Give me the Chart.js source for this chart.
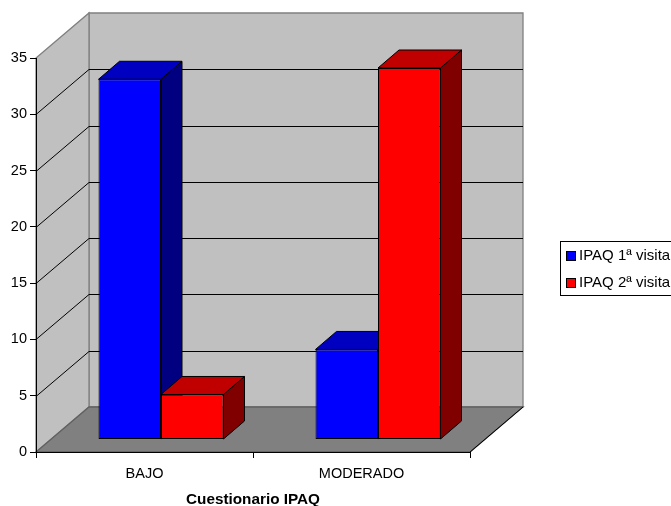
<!DOCTYPE html>
<html>
<head>
<meta charset="utf-8">
<title>Cuestionario IPAQ</title>
<script src="https://cdn.jsdelivr.net/npm/chart.js@4"></script>
<style>
html, body { margin: 0; padding: 0; background: #fff; overflow: hidden; }
canvas { display: block; }
</style>
</head>
<body>
<canvas id="chart" width="671" height="506"></canvas>
<script>
const categories = ['BAJO', 'MODERADO'];
const visita1 = [32, 8];
const visita2 = [4, 33];
const seriesNames = ['IPAQ 1ª visita', 'IPAQ 2ª visita'];
const xTitle = 'Cuestionario IPAQ';

const FONT = '"Liberation Sans", Arial, sans-serif';
const WALL = { dx: 53, dy: -45 };     // depth of the floor and left wall
const SHIFT = { dx: 16.5, dy: -12.5 };  // where the bar fronts sit on the floor
const BAR = { dx: 21, dy: -18 };      // depth of each bar
const EDGE = 1;                       // outline of the bars

function poly(ctx, pts, fill, stroke, lw) {
    ctx.beginPath();
    pts.forEach((p, i) => i ? ctx.lineTo(p[0], p[1]) : ctx.moveTo(p[0], p[1]));
    ctx.closePath();
    if (fill) { ctx.fillStyle = fill; ctx.fill(); }
    if (stroke) { ctx.strokeStyle = stroke; ctx.lineWidth = lw || 1; ctx.stroke(); }
}

const box3d = {
    id: 'box3d',
    // walls, floor and grid go under the axes
    beforeDraw(chart) {
        const ctx = chart.ctx, a = chart.chartArea, y = chart.scales.y;
        const dx = WALL.dx, dy = WALL.dy;
        ctx.save();
        poly(ctx, [[a.left + dx, a.top + dy], [a.right + dx, a.top + dy], [a.right + dx, a.bottom + dy], [a.left + dx, a.bottom + dy]], '#c0c0c0', '#808080', 1.3);
        poly(ctx, [[a.left, a.top], [a.left + dx, a.top + dy], [a.left + dx, a.bottom + dy], [a.left, a.bottom]], '#c0c0c0', '#808080', 1.3);
        poly(ctx, [[a.left, a.bottom], [a.right, a.bottom], [a.right + dx, a.bottom + dy], [a.left + dx, a.bottom + dy]], '#808080', '#606060', 1.3);

        ctx.strokeStyle = '#000';
        ctx.lineWidth = 1;
        ctx.beginPath();
        y.ticks.forEach(t => {
            if (t.value === 0 || t.value === y.max) return;
            const py = Math.round(y.getPixelForValue(t.value)) + 0.5;
            ctx.moveTo(a.left, py);
            ctx.lineTo(a.left + dx, py + dy);
            ctx.lineTo(a.right + dx, py + dy);
        });
        ctx.moveTo(a.right, a.bottom);
        ctx.lineTo(a.right + dx, a.bottom + dy);
        ctx.stroke();

        // legend frame, runs off the right edge like the original
        ctx.strokeStyle = '#000';
        ctx.strokeRect(560.5, 241.5, 130, 54);
        ctx.font = '15px ' + FONT;
        ctx.textBaseline = 'middle';
        ctx.textAlign = 'left';
        chart.data.datasets.forEach((d, i) => {
            const top = 251 + i * 27;
            ctx.fillStyle = d.backgroundColor;
            ctx.fillRect(566.5, top + 0.5, 9, 9);
            ctx.strokeRect(566.5, top + 0.5, 9, 9);
            ctx.fillStyle = '#000';
            ctx.fillText(d.label, 579, top + 4.5);
        });
        ctx.restore();
    },
    // tops and sides first, blue before red, then the library draws the fronts in the same shifted space
    beforeDatasetsDraw(chart) {
        const ctx = chart.ctx;
        ctx.save();
        ctx.translate(SHIFT.dx, SHIFT.dy);
        chart.data.datasets.forEach((d, i) => {
            chart.getDatasetMeta(i).data.forEach(el => {
                const l = el.x - el.width / 2, r = el.x + el.width / 2, t = el.y, b = el.base;
                poly(ctx, [[r, t], [r + BAR.dx, t + BAR.dy], [r + BAR.dx, b + BAR.dy], [r, b]], d.sideColor, '#000', EDGE);
                poly(ctx, [[l, t], [l + BAR.dx, t + BAR.dy], [r + BAR.dx, t + BAR.dy], [r, t]], d.topColor, '#000', EDGE);
            });
        });
    },
    afterDatasetsDraw(chart) {
        chart.ctx.restore();
    }
};

new Chart(document.getElementById('chart'), {
    type: 'bar',
    data: {
        labels: categories,
        datasets: [
            { label: seriesNames[0], data: visita1, backgroundColor: '#0000ff', sideColor: '#000080', topColor: '#0000c0', borderColor: '#000', borderWidth: EDGE, borderSkipped: false, clip: false },
            { label: seriesNames[1], data: visita2, backgroundColor: '#ff0000', sideColor: '#800000', topColor: '#c00000', borderColor: '#000', borderWidth: EDGE, borderSkipped: false, clip: false }
        ]
    },
    options: {
        responsive: false,
        animation: false,
        layout: { padding: { top: 58, right: 201, left: 0, bottom: 0 } },
        datasets: { bar: { categoryPercentage: 0.576, barPercentage: 1 } },
        plugins: { legend: { display: false }, tooltip: { enabled: false } },
        scales: {
            x: {
                afterFit: s => { s.height = 54; },
                grid: { drawOnChartArea: false, color: '#000', tickLength: 6 },
                border: { color: '#000' },
                ticks: { color: '#000', font: { family: FONT, size: 14.5 }, padding: 7, maxRotation: 0 },
                title: { display: true, text: xTitle, color: '#000', font: { family: FONT, size: 15.3, weight: 'bold' }, padding: { top: 0, bottom: -2.5 } }
            },
            y: {
                min: 0,
                max: 35,
                afterFit: s => { s.width = 36; },
                grid: { drawOnChartArea: false, color: '#000', tickLength: 6 },
                border: { color: '#000' },
                ticks: { stepSize: 5, color: '#000', font: { family: FONT, size: 14.5 }, padding: 3 }
            }
        }
    },
    plugins: [box3d]
});
</script>
</body>
</html>
